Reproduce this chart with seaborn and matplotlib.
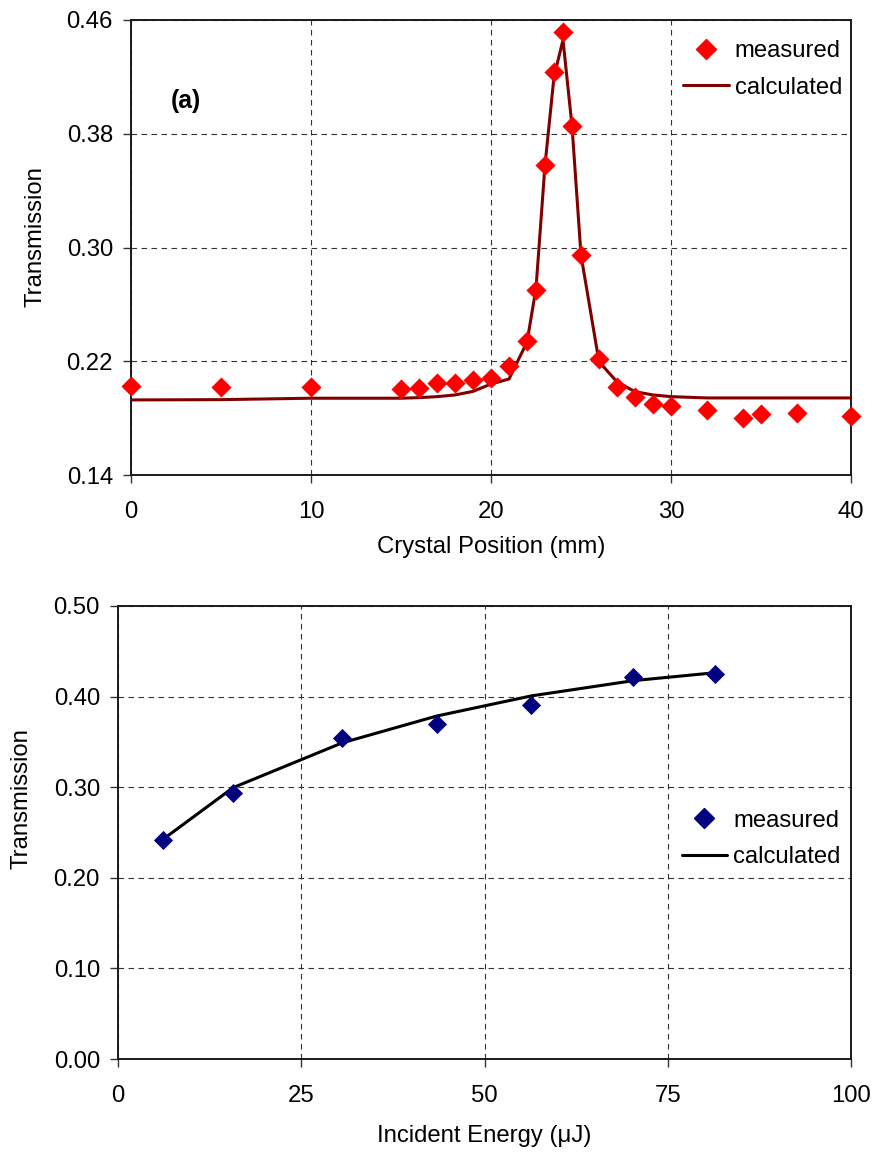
import matplotlib
matplotlib.use("Agg")
import matplotlib.pyplot as plt
import seaborn as sns
import pandas as pd
from matplotlib.lines import Line2D
from matplotlib.ticker import FormatStrFormatter

# ---- data: panel (a) ----
position_mm = [0, 5, 10, 15, 16, 17, 18, 19, 20, 21, 22, 22.5, 23, 23.5, 24, 24.5,
               25, 26, 27, 28, 29, 30, 32, 34, 35, 37, 40]
measured_a = [0.2026, 0.2019, 0.2020, 0.2005, 0.2010, 0.2045, 0.2045, 0.2068, 0.2080,
              0.2170, 0.2342, 0.2700, 0.3580, 0.4234, 0.4516, 0.3855, 0.2947, 0.2213,
              0.2019, 0.1950, 0.1900, 0.1885, 0.1857, 0.1800, 0.1830, 0.1836, 0.1815]
calculated_a = [0.1928, 0.1930, 0.1940, 0.1940, 0.1944, 0.1951, 0.1963, 0.1988, 0.2040,
                0.2075, 0.2335, 0.2712, 0.3580, 0.4200, 0.4460, 0.3855, 0.2947, 0.2197,
                0.2055, 0.1986, 0.1963, 0.1951, 0.1942, 0.1942, 0.1942, 0.1942, 0.1942]

# ---- data: panel (b) ----
energy_uJ = [6.2, 15.7, 30.6, 43.5, 56.4, 70.3, 81.5]
measured_b = [0.2417, 0.2933, 0.3547, 0.3698, 0.3904, 0.4213, 0.4250]
calculated_b = [0.2428, 0.2995, 0.3490, 0.3786, 0.4008, 0.4176, 0.4264]

xticks_a = [0, 10, 20, 30, 40]
yticks_a = [0.14, 0.22, 0.30, 0.38, 0.46]
xticks_b = [0, 25, 50, 75, 100]
yticks_b = [0.00, 0.10, 0.20, 0.30, 0.40, 0.50]

sns.set_theme(style="white")
plt.rcParams['font.family'] = ['Liberation Sans', 'DejaVu Sans']
plt.rcParams['text.color'] = 'black'
plt.rcParams['axes.labelcolor'] = 'black'

FS = 17.2
df_a = pd.DataFrame({"x": position_mm, "meas": measured_a, "calc": calculated_a})
df_b = pd.DataFrame({"x": energy_uJ, "meas": measured_b, "calc": calculated_b})

fig = plt.figure(figsize=(8.74, 11.54), dpi=100)
ax1 = fig.add_axes([131/874, 1 - 475/1154, 720/874, 455/1154])
ax2 = fig.add_axes([118/874, 1 - 1059/1154, 733/874, 453/1154])


def style_axis(ax, xt, yt, xfmt, yfmt):
    ax.set_xlim(xt[0], xt[-1])
    ax.set_ylim(yt[0], yt[-1])
    ax.set_xticks(xt)
    ax.set_yticks(yt)
    ax.xaxis.set_major_formatter(FormatStrFormatter(xfmt))
    ax.yaxis.set_major_formatter(FormatStrFormatter(yfmt))
    ax.grid(True, color="#333333", linewidth=0.8, linestyle=(0, (5, 4)))
    ax.set_axisbelow(True)
    for s in ax.spines.values():
        s.set_visible(True)
        s.set_color("#1a1a1a")
        s.set_linewidth(1.4)
    ax.tick_params(axis="both", which="major", direction="out", length=6, width=1,
                   color="#333333", labelsize=FS, labelcolor="black", left=True, bottom=True)
    ax.tick_params(axis="y", pad=7)
    ax.tick_params(axis="x", pad=13)


# panel (a)
sns.lineplot(data=df_a, x="x", y="calc", ax=ax1, color="#800000", linewidth=2.2,
             sort=False, zorder=3)
sns.scatterplot(data=df_a, x="x", y="meas", ax=ax1, color="#FF0000", marker="D",
                s=105, linewidth=0, zorder=4, clip_on=False)
style_axis(ax1, xticks_a, yticks_a, "%d", "%.2f")
ax1.set_xlabel("Crystal Position (mm)", fontsize=FS)
ax1.set_ylabel("Transmission", fontsize=FS)
ax1.xaxis.set_label_coords(0.5, -0.135)
ax1.yaxis.set_label_coords(-0.117, 0.523)
ax1.xaxis.label.set_va("top")
ax1.text(3.05, 0.403, "(a)", fontsize=FS + 0.5, fontweight="bold", ha="center", va="center")
h_a = [Line2D([], [], color="#FF0000", marker="D", markersize=10, linestyle="none"),
       Line2D([], [], color="#800000", linewidth=2.2)]
ax1.legend(h_a, ["measured", "calculated"], loc="upper left",
           bbox_to_anchor=(0.767, 0.955), frameon=False, fontsize=FS,
           handlelength=1.9, handletextpad=0.25, labelspacing=0.6,
           borderpad=0, borderaxespad=0)

# panel (b)
sns.lineplot(data=df_b, x="x", y="calc", ax=ax2, color="black", linewidth=2.2,
             sort=False, zorder=3)
sns.scatterplot(data=df_b, x="x", y="meas", ax=ax2, color="#000080", marker="D",
                s=95, linewidth=0, zorder=4)
style_axis(ax2, xticks_b, yticks_b, "%d", "%.2f")
ax2.set_xlabel("Incident Energy (μJ)", fontsize=FS)
ax2.set_ylabel("Transmission", fontsize=FS)
ax2.xaxis.set_label_coords(0.5, -0.145)
ax2.yaxis.set_label_coords(-0.116, 0.574)
ax2.xaxis.label.set_va("top")
h_b = [Line2D([], [], color="#000080", marker="D", markersize=10, linestyle="none"),
       Line2D([], [], color="black", linewidth=2.2)]
ax2.legend(h_b, ["measured", "calculated"], loc="upper left",
           bbox_to_anchor=(0.769, 0.55), frameon=False, fontsize=FS,
           handlelength=1.9, handletextpad=0.25, labelspacing=0.6,
           borderpad=0, borderaxespad=0)

fig.savefig("out.png", dpi=100, facecolor="white")
